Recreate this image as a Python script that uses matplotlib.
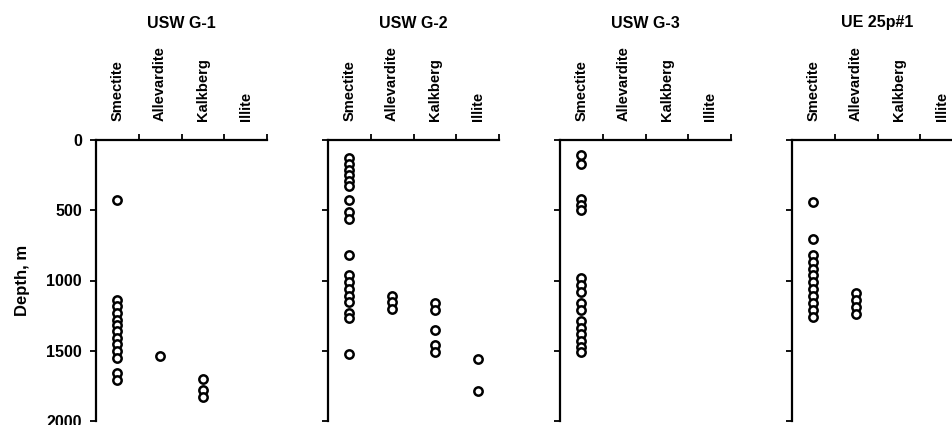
import matplotlib
matplotlib.use("Agg")
import matplotlib.pyplot as plt

plt.rcParams['font.family'] = ['Liberation Sans', 'DejaVu Sans']

minerals = ["Smectite", "Allevardite", "Kalkberg", "Illite"]
wells = ["USW G-1", "USW G-2", "USW G-3", "UE 25p#1"]

# depths (m) of samples for each well, per mineral
g1_smectite = [430, 1140, 1180, 1230, 1280, 1320, 1360, 1410, 1450, 1500, 1550, 1660, 1710]
g1_allevardite = [1535]
g1_kalkberg = [1700, 1780, 1830]
g1_illite = []

g2_smectite = [130, 170, 210, 250, 290, 330, 430, 510, 560, 820, 960, 1010, 1060, 1110, 1150, 1230, 1270, 1520]
g2_allevardite = [1110, 1155, 1205]
g2_kalkberg = [1160, 1210, 1350, 1460, 1510]
g2_illite = [1560, 1790]

g3_smectite = [110, 170, 420, 460, 500, 980, 1030, 1080, 1160, 1210, 1290, 1340, 1380, 1430, 1470, 1510]
g3_allevardite = []
g3_kalkberg = []
g3_illite = []

p1_smectite = [440, 705, 820, 870, 920, 960, 1010, 1060, 1110, 1160, 1210, 1260]
p1_allevardite = [1090, 1140, 1190, 1240]
p1_kalkberg = []
p1_illite = []

data = [
    [g1_smectite, g1_allevardite, g1_kalkberg, g1_illite],
    [g2_smectite, g2_allevardite, g2_kalkberg, g2_illite],
    [g3_smectite, g3_allevardite, g3_kalkberg, g3_illite],
    [p1_smectite, p1_allevardite, p1_kalkberg, p1_illite],
]

W, H = 952, 425
fig = plt.figure(figsize=(W / 100, H / 100), dpi=100)

lefts = [96, 328, 560, 792]
top_px, bot_px, width_px = 140, 421, 171

for i, well in enumerate(wells):
    ax = fig.add_axes([lefts[i] / W, 1 - bot_px / H, width_px / W, (bot_px - top_px) / H])
    for j, depths in enumerate(data[i]):
        ax.plot([j + 0.5] * len(depths), depths, 'o', mfc='white', mec='black',
                ms=6, mew=1.8, clip_on=False)
    ax.set_xlim(0, 4)
    ax.set_ylim(2000, 0)
    for s in ['right', 'bottom']:
        ax.spines[s].set_visible(False)
    for s in ['left', 'top']:
        ax.spines[s].set_linewidth(1.6)
    ax.xaxis.tick_top()
    ax.set_xticks([1, 2, 3, 4])
    ax.set_xticklabels([])
    ax.set_xticks([0.5, 1.5, 2.5, 3.5], minor=True)
    ax.set_xticklabels(minerals, minor=True, rotation=90, fontsize=10.5, fontweight='bold')
    ax.tick_params(axis='x', which='major', direction='out', length=4, width=1.3)
    ax.tick_params(axis='x', which='minor', length=0, pad=14)
    ax.set_yticks([0, 500, 1000, 1500, 2000])
    ax.tick_params(axis='y', direction='out', length=4, width=1.3, labelsize=11.5, pad=6)
    if i == 0:
        ax.set_ylabel("Depth, m", fontsize=12, fontweight='bold', labelpad=12)
        for lab in ax.get_yticklabels():
            lab.set_fontweight('bold')
    else:
        ax.set_yticklabels([])
    fig.text((lefts[i] + width_px / 2) / W, 1 - 23 / H, well, ha='center', va='center',
             fontsize=11.5, fontweight='bold')

fig.savefig("out.png", dpi=100)
